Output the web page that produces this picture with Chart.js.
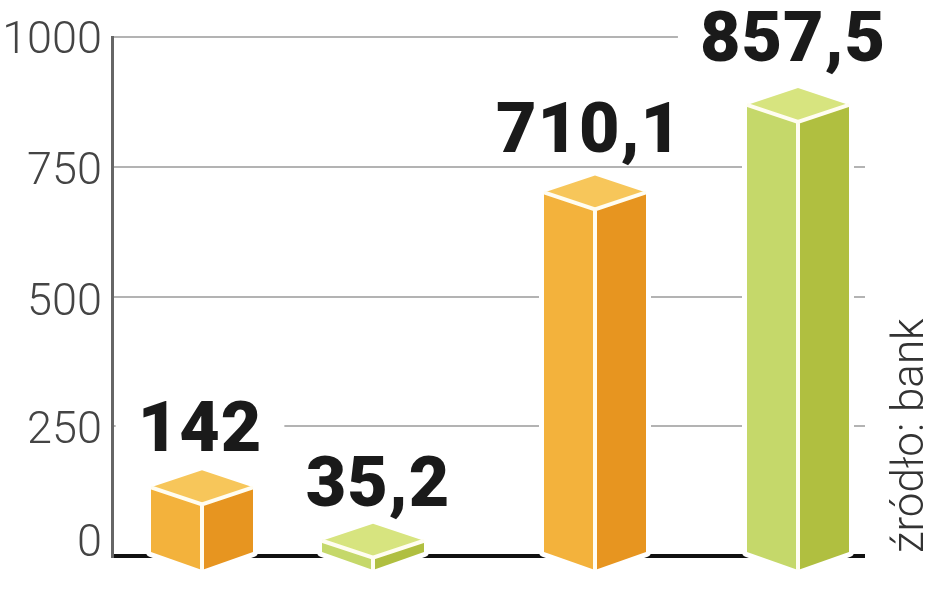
<!DOCTYPE html>
<html>
<head>
<meta charset="utf-8">
<title>Chart</title>
<script src="https://cdn.jsdelivr.net/npm/chart.js@4"></script>
<style>
  html, body { margin: 0; padding: 0; background: #fff; }
  canvas { display: block; }
</style>
</head>
<body>
<canvas id="chart" width="948" height="593"></canvas>
<script>
const barSlots = [0.9, 2.61, 4.83, 6.86];
const barValues = [142, 35.2, 710.1, 857.5];
const valueLabels = ["142", "35,2", "710,1", "857,5"];
const barGroups = ["orange", "green", "orange", "green"];
const yTicks = [0, 250, 500, 750, 1000];
const sourceText = "źródło: bank";

const palette = {
  orange: { left: "#F3B23C", right: "#E79520", top: "#F7C65A" },
  green: { left: "#C5D86A", right: "#B0BF40", top: "#D7E47F" }
};

// the columns in the original sit a few px off the scale, labels are placed by hand
const topNudge = [5, 3, 5, -6];
const labelShift = [-2, 5, -6, -5];
const labelLift = [31, 32, 35, 50];
const tickNudge = [-11, 5, 7, 6, 5];

const prismWidth = 102;
const prismDepth = 17;
const haloWidth = 10;
const labelFont = "900 70px Roboto";
const labelSpacing = "1px";
const tickFont = "300 45px Roboto";

function prismPoints(el, i) {
  const half = prismWidth / 2;
  const top = el.y + topNudge[i];
  const base = el.base - 2;
  const tip = base + prismDepth + 1;
  return {
    x: el.x, half, top, base, tip,
    silhouette: [
      [el.x - half, top], [el.x, top - prismDepth], [el.x + half, top],
      [el.x + half, base], [el.x, tip], [el.x - half, base]
    ]
  };
}

function fillPoly(ctx, pts, color) {
  ctx.beginPath();
  pts.forEach((p, k) => (k ? ctx.lineTo(p[0], p[1]) : ctx.moveTo(p[0], p[1])));
  ctx.closePath();
  ctx.fillStyle = color;
  ctx.fill();
}

const prismPlugin = {
  id: "prisms",
  beforeDatasetsDraw(chart) {
    const ctx = chart.ctx;
    const elements = chart.getDatasetMeta(0).data;
    ctx.save();
    // white knockouts so that the grid stops short of columns and labels
    elements.forEach((el, i) => {
      const p = prismPoints(el, i);
      ctx.beginPath();
      p.silhouette.forEach((q, k) => (k ? ctx.lineTo(q[0], q[1]) : ctx.moveTo(q[0], q[1])));
      ctx.closePath();
      ctx.fillStyle = "#fff";
      ctx.strokeStyle = "#fff";
      ctx.lineWidth = haloWidth;
      ctx.lineJoin = "round";
      ctx.fill();
      ctx.stroke();

      ctx.font = labelFont;
      ctx.letterSpacing = labelSpacing;
      const w = ctx.measureText(valueLabels[i]).width;
      const baseline = el.y - labelLift[i];
      ctx.fillRect(el.x + labelShift[i] - w / 2 - 22, baseline - 52, w + 44, 58);
    });
    ctx.restore();
  },
  afterDatasetsDraw(chart) {
    const ctx = chart.ctx;
    const elements = chart.getDatasetMeta(0).data;
    ctx.save();
    elements.forEach((el, i) => {
      const c = palette[barGroups[i]];
      const p = prismPoints(el, i);
      const l = el.x - p.half, r = el.x + p.half;
      const front = p.top + prismDepth;
      fillPoly(ctx, [[l, p.top], [el.x, front], [el.x, p.tip], [l, p.base]], c.left);
      fillPoly(ctx, [[r, p.top], [el.x, front], [el.x, p.tip], [r, p.base]], c.right);
      fillPoly(ctx, [[l, p.top], [el.x, p.top - prismDepth], [r, p.top], [el.x, front]], c.top);

      ctx.strokeStyle = "#FFFDF2";
      ctx.lineWidth = 4;
      ctx.beginPath();
      ctx.moveTo(l, p.top);
      ctx.lineTo(el.x, front);
      ctx.lineTo(r, p.top);
      ctx.moveTo(el.x, front);
      ctx.lineTo(el.x, p.tip);
      ctx.stroke();

      ctx.font = labelFont;
      ctx.letterSpacing = labelSpacing;
      ctx.fillStyle = "#1a1a1a";
      ctx.textAlign = "center";
      ctx.textBaseline = "alphabetic";
      ctx.fillText(valueLabels[i], el.x + labelShift[i], el.y - labelLift[i]);
    });
    ctx.restore();
  },
  afterDraw(chart) {
    const ctx = chart.ctx;
    const y = chart.scales.y;
    ctx.save();
    ctx.font = tickFont;
    ctx.fillStyle = "#444";
    ctx.textAlign = "right";
    ctx.textBaseline = "middle";
    yTicks.forEach((t, i) => {
      ctx.fillText(String(t), 102, y.getPixelForValue(t) + tickNudge[i]);
    });
    ctx.translate(923, 553);
    ctx.rotate(-Math.PI / 2);
    ctx.font = "300 44px Roboto";
    ctx.textAlign = "left";
    ctx.textBaseline = "alphabetic";
    ctx.fillStyle = "#333";
    ctx.fillText(sourceText, 0, 0);
    ctx.restore();
  }
};

new Chart(document.getElementById("chart"), {
  type: "bar",
  data: {
    datasets: [{
      data: barSlots.map((s, i) => ({ x: s, y: barValues[i] })),
      backgroundColor: barGroups.map(g => palette[g].left),
      barThickness: 60,
      borderWidth: 0
    }]
  },
  options: {
    responsive: false,
    animation: false,
    layout: { padding: { left: 0, right: 83, top: 37, bottom: 37 } },
    plugins: { legend: { display: false }, tooltip: { enabled: false } },
    scales: {
      x: { type: "linear", min: 0, max: 7.53, offset: false, display: false },
      y: {
        min: 0,
        max: 1000,
        afterBuildTicks(scale) { scale.ticks = yTicks.map(v => ({ value: v })); },
        afterFit(scale) { scale.width = 112; },
        ticks: { display: false },
        grid: {
          drawTicks: false,
          color: ctx => (ctx.tick && ctx.tick.value === 0 ? "#111" : "#b3b3b3"),
          lineWidth: ctx => (ctx.tick && ctx.tick.value === 0 ? 4 : 2)
        },
        border: { color: "#666", width: 3 }
      }
    }
  },
  plugins: [prismPlugin]
});
</script>
</body>
</html>
